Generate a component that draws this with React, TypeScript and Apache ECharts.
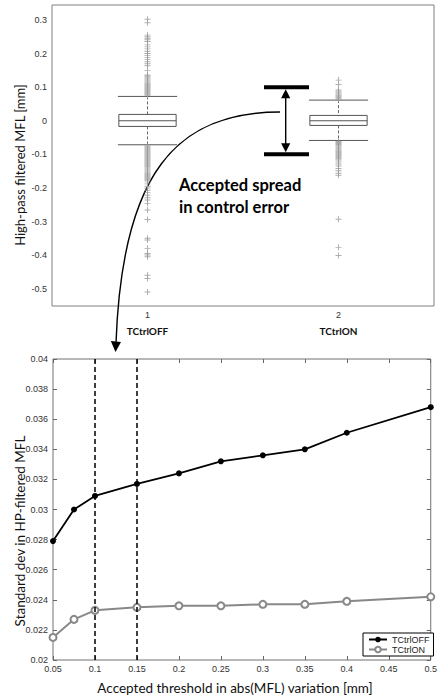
import React, { useEffect, useRef } from "react";
import * as echarts from "echarts";

// Box plot: high-pass filtered MFL per control mode
const categories = ["TCtrlOFF", "TCtrlON"];
// [lower whisker, Q1, median, Q3, upper whisker]
const boxOff = [-0.0715, -0.0169, 0, 0.0189, 0.0725];
const boxOn = [-0.0586, -0.0139, 0, 0.0159, 0.0615];
const outliersOff = [
  0.302, 0.292, 0.255, 0.25, 0.246, 0.241, 0.236, 0.226, 0.22, 0.214, 0.207, 0.2, 0.194, 0.188,
  0.182, 0.176, 0.17, 0.164, 0.15, 0.136, 0.133, 0.13, 0.127, 0.124, 0.121, 0.118, 0.115, 0.112,
  0.109, 0.106, 0.103, 0.1, 0.097, 0.094, 0.091, 0.088, 0.085, 0.082, 0.079, 0.076,
  -0.075, -0.078, -0.081, -0.084, -0.087, -0.09, -0.093, -0.096, -0.099, -0.102, -0.105, -0.108,
  -0.111, -0.114, -0.117, -0.12, -0.123, -0.126, -0.129, -0.132, -0.135, -0.138, -0.141, -0.144,
  -0.147, -0.15, -0.153, -0.156, -0.159, -0.162, -0.165, -0.168, -0.171, -0.174, -0.177, -0.182,
  -0.188, -0.195, -0.2, -0.207, -0.214, -0.222, -0.229, -0.236, -0.246, -0.266, -0.294, -0.35,
  -0.355, -0.38, -0.395, -0.4, -0.405, -0.46, -0.47, -0.51,
];
const outliersOn = [
  0.121, 0.108, 0.092, 0.089, 0.086, 0.083, 0.08, 0.077, 0.074, 0.071, 0.068, 0.065,
  -0.062, -0.065, -0.068, -0.071, -0.074, -0.077, -0.08, -0.083, -0.086, -0.089, -0.092, -0.095,
  -0.098, -0.101, -0.104, -0.107, -0.11, -0.113, -0.117, -0.123, -0.129, -0.135, -0.142, -0.149,
  -0.156, -0.162, -0.293, -0.377, -0.401,
];
const topYMin = -0.5516;
const topYMax = 0.3447;
const acceptedSpread = 0.1;

// Line plot: std dev vs accepted threshold
const thresholds = [0.05, 0.075, 0.1, 0.15, 0.2, 0.25, 0.3, 0.35, 0.4, 0.5];
const stdOff = [0.0279, 0.03, 0.0309, 0.0317, 0.0324, 0.0332, 0.0336, 0.034, 0.0351, 0.0368];
const stdOn = [0.0215, 0.0227, 0.0233, 0.0235, 0.0236, 0.0236, 0.0237, 0.0237, 0.0239, 0.0242];
const markedThresholds = [0.1, 0.15];

const TICK_FONT = "'Liberation Sans', Arial, sans-serif";
const TITLE_FONT = "Lato, 'Open Sans', sans-serif";
const PLUS = "path://M4.2,0H5.8V4.2H10V5.8H5.8V10H4.2V5.8H0V4.2H4.2Z";

const tickLabel = { fontSize: 9, fontFamily: TICK_FONT, color: "#333" };

export default function App() {
  const ref = useRef<HTMLDivElement>(null);

  useEffect(() => {
    if (!ref.current) return;
    const chart = echarts.init(ref.current, null, { renderer: "svg" });

    const boxData = [
      [0, ...boxOff],
      [1, ...boxOn],
    ];
    const outlierData = [
      ...outliersOff.map((v) => [0, v]),
      ...outliersOn.map((v) => [1, v]),
    ];

    const option: any = {
      animation: false,
      backgroundColor: "#fff",
      grid: [
        { left: 52, top: 5, width: 382, height: 301, show: true, borderColor: "#808080", borderWidth: 1 },
        { left: 53, top: 359, width: 384, height: 301, show: true, borderColor: "#707070", borderWidth: 1 },
      ],
      xAxis: [
        {
          type: "category",
          gridIndex: 0,
          data: categories,
          boundaryGap: true,
          axisLine: { show: false },
          axisTick: { inside: true, alignWithLabel: true, length: 4, lineStyle: { color: "#777" } },
          axisLabel: {
            margin: 3,
            formatter: (v: string, i: number) => `{n|${i + 1}}\n{c|${v}}`,
            rich: {
              n: { ...tickLabel, lineHeight: 12 },
              c: { fontSize: 10, fontWeight: "bold", fontFamily: TITLE_FONT, color: "#111", lineHeight: 20 },
            },
          },
        },
        {
          type: "category",
          gridIndex: 0,
          position: "top",
          data: categories,
          boundaryGap: true,
          axisLine: { show: false },
          axisTick: { inside: true, alignWithLabel: true, length: 4, lineStyle: { color: "#777" } },
          axisLabel: { show: false },
        },
        {
          type: "value",
          gridIndex: 1,
          min: 0.05,
          max: 0.5,
          interval: 0.05,
          axisLine: { show: false },
          splitLine: { show: false },
          axisTick: { inside: true, length: 4, lineStyle: { color: "#666" } },
          axisLabel: { ...tickLabel, margin: 4 },
        },
        {
          type: "value",
          gridIndex: 1,
          position: "top",
          min: 0.05,
          max: 0.5,
          interval: 0.05,
          axisLine: { show: false },
          splitLine: { show: false },
          axisTick: { inside: true, length: 4, lineStyle: { color: "#666" } },
          axisLabel: { show: false },
        },
      ],
      yAxis: [
        {
          type: "value",
          gridIndex: 0,
          min: topYMin,
          max: topYMax,
          splitNumber: 9,
          minInterval: 0.1,
          maxInterval: 0.1,
          axisLine: { show: false },
          splitLine: { show: false },
          axisTick: { inside: true, length: 4, lineStyle: { color: "#777" } },
          axisLabel: { ...tickLabel, margin: 5, showMinLabel: false, showMaxLabel: false },
        },
        {
          type: "value",
          gridIndex: 0,
          position: "right",
          min: topYMin,
          max: topYMax,
          splitNumber: 9,
          minInterval: 0.1,
          maxInterval: 0.1,
          axisLine: { show: false },
          splitLine: { show: false },
          axisTick: { inside: true, length: 4, lineStyle: { color: "#777" } },
          axisLabel: { show: false },
        },
        {
          type: "value",
          gridIndex: 1,
          min: 0.02,
          max: 0.04,
          interval: 0.002,
          axisLine: { show: false },
          splitLine: { show: false },
          axisTick: { inside: true, length: 4, lineStyle: { color: "#666" } },
          axisLabel: { ...tickLabel, margin: 5 },
        },
        {
          type: "value",
          gridIndex: 1,
          position: "right",
          min: 0.02,
          max: 0.04,
          interval: 0.002,
          axisLine: { show: false },
          splitLine: { show: false },
          axisTick: { inside: true, length: 4, lineStyle: { color: "#666" } },
          axisLabel: { show: false },
        },
      ],
      legend: {
        data: ["TCtrlOFF", "TCtrlON"],
        orient: "vertical",
        left: 363,
        top: 633,
        itemWidth: 18,
        itemHeight: 7,
        itemGap: 1,
        padding: [2, 4, 2, 5],
        borderColor: "#000",
        borderWidth: 1,
        backgroundColor: "#fff",
        textStyle: { fontSize: 9, fontFamily: TICK_FONT, color: "#222" },
      },
      series: [
        {
          type: "scatter",
          xAxisIndex: 0,
          yAxisIndex: 0,
          data: outlierData,
          symbol: PLUS,
          symbolSize: 6,
          itemStyle: { color: "#9a9a9a" },
          silent: true,
        },
        {
          type: "custom",
          xAxisIndex: 0,
          yAxisIndex: 0,
          data: boxData,
          encode: { x: 0, y: [1, 2, 3, 4, 5] },
          renderItem: (_params: any, api: any) => {
            const cat = api.value(0);
            const band = api.size([1, 0])[0];
            const boxW = band * 0.3;
            const capW = band * 0.155;
            const cx = api.coord([cat, 0])[0];
            const y = (i: number) => api.coord([cat, api.value(i)])[1];
            const yLo = y(1), yQ1 = y(2), yMed = y(3), yQ3 = y(4), yHi = y(5);
            const dash = { stroke: "#666", lineWidth: 1, lineDash: [3, 2] };
            const solid = { stroke: "#555", lineWidth: 1 };
            return {
              type: "group",
              children: [
                { type: "line", shape: { x1: cx, y1: yHi, x2: cx, y2: yQ3 }, style: dash },
                { type: "line", shape: { x1: cx, y1: yQ1, x2: cx, y2: yLo }, style: dash },
                { type: "line", shape: { x1: cx - capW, y1: yHi, x2: cx + capW, y2: yHi }, style: solid },
                { type: "line", shape: { x1: cx - capW, y1: yLo, x2: cx + capW, y2: yLo }, style: solid },
                {
                  type: "rect",
                  shape: { x: cx - boxW / 2, y: yQ3, width: boxW, height: yQ1 - yQ3 },
                  style: { fill: "#fff", stroke: "#555", lineWidth: 1 },
                },
                { type: "line", shape: { x1: cx - boxW / 2, y1: yMed, x2: cx + boxW / 2, y2: yMed }, style: solid },
              ],
            };
          },
        },
        {
          name: "TCtrlOFF",
          type: "line",
          xAxisIndex: 2,
          yAxisIndex: 2,
          data: thresholds.map((t, i) => [t, stdOff[i]]),
          symbol: "circle",
          symbolSize: 6,
          lineStyle: { color: "#000", width: 1.8 },
          itemStyle: { color: "#000" },
          markLine: {
            silent: true,
            symbol: "none",
            label: { show: false },
            lineStyle: { color: "#000", type: [5, 3], width: 1.5 },
            data: markedThresholds.map((t) => ({ xAxis: t })),
          },
          z: 3,
        },
        {
          name: "TCtrlON",
          type: "line",
          xAxisIndex: 2,
          yAxisIndex: 2,
          data: thresholds.map((t, i) => [t, stdOn[i]]),
          symbol: "emptyCircle",
          symbolSize: 7,
          lineStyle: { color: "#888", width: 2 },
          itemStyle: { color: "#888", borderWidth: 1.5 },
          z: 2,
        },
      ],
    };

    chart.setOption(option);

    // Annotation linking the accepted spread to the lower plot
    const yPlus = chart.convertToPixel({ yAxisIndex: 0 }, acceptedSpread) as number;
    const yMinus = chart.convertToPixel({ yAxisIndex: 0 }, -acceptedSpread) as number;
    const ax = 285.7;
    const barL = 264;
    const barR = 309;
    const headH = 9;
    const headW = 4.6;

    chart.setOption({
      graphic: [
        { type: "rect", shape: { x: barL, y: yPlus - 2, width: barR - barL, height: 4 }, style: { fill: "#000" } },
        { type: "rect", shape: { x: barL, y: yMinus - 2, width: barR - barL, height: 4 }, style: { fill: "#000" } },
        {
          type: "line",
          shape: { x1: ax, y1: yPlus + 4, x2: ax, y2: yMinus - 4 },
          style: { stroke: "#000", lineWidth: 1.4 },
        },
        {
          type: "polygon",
          shape: { points: [[ax, yPlus + 2], [ax - headW, yPlus + 2 + headH], [ax + headW, yPlus + 2 + headH]] },
          style: { fill: "#000" },
        },
        {
          type: "polygon",
          shape: { points: [[ax, yMinus - 2], [ax - headW, yMinus - 2 - headH], [ax + headW, yMinus - 2 - headH]] },
          style: { fill: "#000" },
        },
        {
          type: "bezierCurve",
          shape: { x1: 280, y1: 112, cpx1: 175, cpy1: 112, cpx2: 122, cpy2: 175, x2: 116, y2: 343 },
          style: { stroke: "#000", lineWidth: 1.4, fill: "none" },
        },
        {
          type: "polygon",
          shape: { points: [[110.8, 341], [121, 342], [115.5, 352]] },
          style: { fill: "#000" },
        },
        {
          type: "text",
          x: 179,
          y: 196,
          style: {
            text: "Accepted spread\nin control error",
            font: `bold 16.5px ${TITLE_FONT}`,
            lineHeight: 22,
            fill: "#000",
            align: "left",
            verticalAlign: "middle",
          },
        },
        {
          type: "text",
          x: 20,
          y: 165,
          rotation: Math.PI / 2,
          style: {
            text: "High-pass filtered MFL [mm]",
            font: `13px ${TITLE_FONT}`,
            fill: "#111",
            align: "center",
            verticalAlign: "middle",
          },
        },
        {
          type: "text",
          x: 20,
          y: 531,
          rotation: Math.PI / 2,
          style: {
            text: "Standard dev in HP-filtered MFL",
            font: `13.5px ${TITLE_FONT}`,
            fill: "#111",
            align: "center",
            verticalAlign: "middle",
          },
        },
        {
          type: "text",
          x: 235,
          y: 688,
          style: {
            text: "Accepted threshold in abs(MFL) variation [mm]",
            font: `13.5px ${TITLE_FONT}`,
            fill: "#111",
            align: "center",
            verticalAlign: "middle",
          },
        },
      ],
    });

    return () => chart.dispose();
  }, []);

  return (
    <div
      ref={ref}
      style={{ position: "absolute", left: 0, top: 0, width: 440, height: 699, background: "#fff" }}
    />
  );
}
